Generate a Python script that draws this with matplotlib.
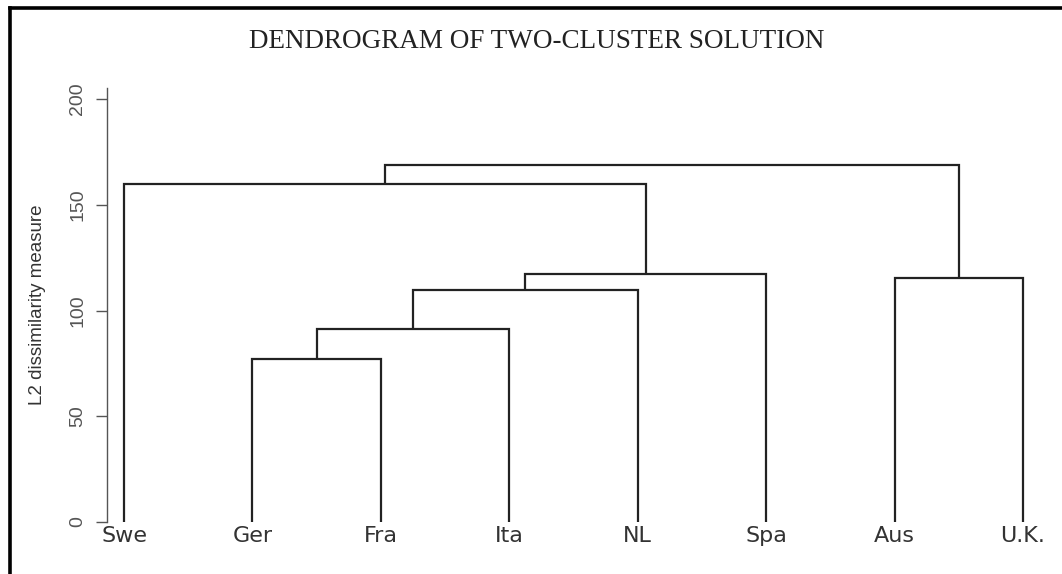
import matplotlib
matplotlib.use("Agg")
import matplotlib.pyplot as plt
from matplotlib.lines import Line2D

# %% data
labels = ['Swe', 'Ger', 'Fra', 'Ita', 'NL', 'Spa', 'Aus', 'U.K.']
# merges: (node a, node b, height); leaves are 0..7, new nodes numbered from 8
merge_a = [1, 8, 9, 10, 6, 0, 13]
merge_b = [2, 3, 4, 5, 7, 11, 12]
merge_h = [77.2, 91.3, 109.7, 117.4, 115.2, 160.0, 168.8]
yticks = [0, 50, 100, 150, 200]

# %% figure
W, H, DPI = 1062, 574, 100
fig = plt.figure(figsize=(W / DPI, H / DPI), dpi=DPI)

# axes placed in pixels: y=0 at 522px, spine left at 107px
ax_left, ax_right, ax_bot, ax_top = 107, 1040, 522, 88
ax = fig.add_axes([ax_left / W, (H - ax_bot) / H,
                   (ax_right - ax_left) / W, (ax_bot - ax_top) / H])

# node positions: leaves at 1..n, internal at mid of children
xpos = {i: i + 1 for i in range(len(labels))}
ypos = {i: 0.0 for i in range(len(labels))}
for k, (a, b, h) in enumerate(zip(merge_a, merge_b, merge_h)):
    node = len(labels) + k
    ax.plot([xpos[a], xpos[a], xpos[b], xpos[b]], [ypos[a], h, h, ypos[b]],
            color='#222222', lw=1.6, solid_capstyle='butt', solid_joinstyle='miter')
    xpos[node] = (xpos[a] + xpos[b]) / 2
    ypos[node] = h

px_per_unit = (1023 - 124) / 7
ax.set_xlim(1 - (124 - ax_left) / px_per_unit, 8 + (ax_right - 1023) / px_per_unit)
ax.set_ylim(0, (ax_bot - ax_top) / 2.115)

for s in ['top', 'right', 'bottom']:
    ax.spines[s].set_visible(False)
ax.spines['left'].set_color('#555555')
ax.spines['left'].set_linewidth(1.0)

ax.set_yticks(yticks)
ax.set_yticklabels([str(t) for t in yticks], rotation=90, va='center',
                   fontsize=14, color='#555555', family='Liberation Sans')
ax.tick_params(axis='y', length=8, width=1.0, color='#555555', pad=7)

ax.set_xticks(range(1, len(labels) + 1))
ax.set_xticklabels(labels, fontsize=16, color='#333333', family='DejaVu Sans')
ax.tick_params(axis='x', length=0, pad=3)

ax.set_ylabel('L2 dissimilarity measure', fontsize=13.5, color='#333333',
              family='Liberation Sans')
ax.yaxis.set_label_coords((46 - ax_left) / (ax_right - ax_left), 0.5)

fig.text(537 / W, 1 - 42 / H, 'DENDROGRAM OF TWO-CLUSTER SOLUTION',
         ha='center', va='center', fontsize=19.5, family='Liberation Serif',
         color='#222222')

# black frame (left and top edges)
fig.add_artist(Line2D([9.5 / W, 9.5 / W], [0, 1 - 8 / H], transform=fig.transFigure,
                      color='black', lw=2.6, solid_capstyle='projecting'))
fig.add_artist(Line2D([9.5 / W, 1], [1 - 8 / H, 1 - 8 / H], transform=fig.transFigure,
                      color='black', lw=2.6, solid_capstyle='projecting'))

fig.savefig('out.png', dpi=DPI)
